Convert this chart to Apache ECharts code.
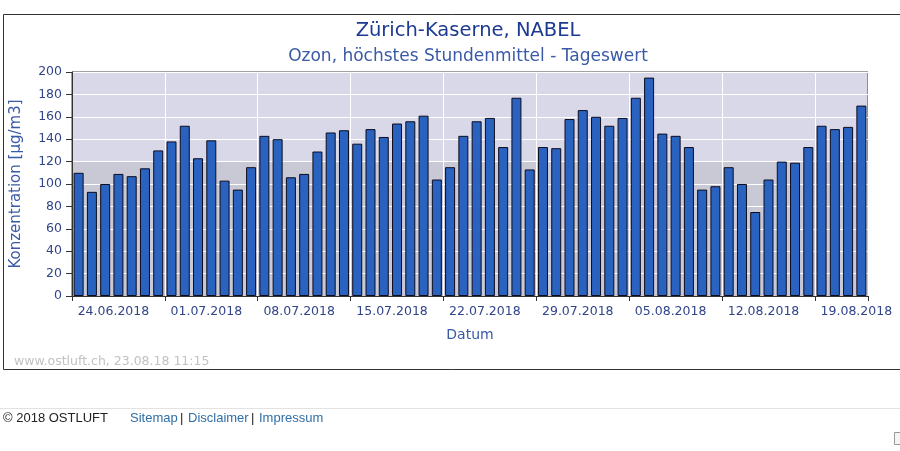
<!DOCTYPE html>
<html>
<head>
<meta charset="utf-8">
<script src="https://cdn.jsdelivr.net/npm/echarts@6/dist/echarts.min.js"></script>
<style>html,body{margin:0;padding:0;background:#fff;}#c{width:900px;height:451px;}</style>
</head>
<body>
<div id="c"></div>
<script>
const days = ['24.06','25.06','26.06','27.06','28.06','29.06','30.06',
  '01.07','02.07','03.07','04.07','05.07','06.07','07.07',
  '08.07','09.07','10.07','11.07','12.07','13.07','14.07',
  '15.07','16.07','17.07','18.07','19.07','20.07','21.07',
  '22.07','23.07','24.07','25.07','26.07','27.07','28.07',
  '29.07','30.07','31.07','01.08','02.08','03.08','04.08',
  '05.08','06.08','07.08','08.08','09.08','10.08','11.08',
  '12.08','13.08','14.08','15.08','16.08','17.08','18.08',
  '19.08','20.08','21.08','22.08'];
const ozone = [110,93,100,109,107,114,130,
  138,152,123,139,103,95,115,
  143,140,106,109,129,146,148,
  136,149,142,154,156,161,104,
  115,143,156,159,133,177,113,
  133,132,158,166,160,152,159,
  177,195,145,143,133,95,98,
  115,100,75,104,120,119,133,
  152,149,151,170];
const weekLabels = ['24.06.2018','01.07.2018','08.07.2018','15.07.2018','22.07.2018',
  '29.07.2018','05.08.2018','12.08.2018','19.08.2018'];
const yTicks = [0,20,40,60,80,100,120,140,160,180,200];
const threshold = 120;

const chart = echarts.init(document.getElementById('c'));
const labelColor = '#32458a';
chart.setOption({
  animation: false,
  backgroundColor: '#fff',
  title: [
    {text: 'Zürich-Kaserne, NABEL', left: 463, top: 16, textAlign: 'center',
     textStyle: {fontFamily: 'DejaVu Sans', fontSize: 19.5, fontWeight: 'normal', color: '#1d3a92'}},
    {text: 'Ozon, höchstes Stundenmittel - Tageswert', left: 463, top: 43, textAlign: 'center',
     textStyle: {fontFamily: 'DejaVu Sans', fontSize: 17, fontWeight: 'normal', color: '#3a5aa6'}},
    {text: 'www.ostluft.ch, 23.08.18 11:15', left: 9, top: 350,
     textStyle: {fontFamily: 'DejaVu Sans', fontSize: 12.5, fontWeight: 'normal', color: '#c2c2c2'}}
  ],
  grid: {left: 72, right: 32, top: 72, bottom: 155, show: true,
    backgroundColor: '#d8d8e8', borderColor: '#444', borderWidth: 1},
  xAxis: {
    type: 'category', data: days, z: 3,
    name: 'Datum', nameLocation: 'middle', nameGap: 32,
    nameTextStyle: {fontFamily: 'DejaVu Sans', fontSize: 14, color: '#3a5aa6'},
    axisLine: {lineStyle: {color: '#333', width: 1}},
    axisTick: {show: true, length: 5, lineStyle: {color: '#333'},
      interval: function (i) { return i % 7 === 0; }},
    splitLine: {show: true, lineStyle: {color: '#ffffff', width: 1},
      interval: function (i) { return i % 7 === 0; }},
    axisLabel: {
      interval: function (i) { return i % 7 === 3; },
      formatter: function (v, i) { return weekLabels[Math.floor(i / 7)]; },
      fontFamily: 'DejaVu Sans', fontSize: 12.5, color: labelColor, margin: 9,
      padding: [0, 10, 0, 0]
    }
  },
  yAxis: {
    type: 'value', min: yTicks[0], max: yTicks[yTicks.length - 1], interval: 20, z: 3,
    name: 'Konzentration [µg/m3]', nameLocation: 'middle', nameGap: 48,
    nameTextStyle: {fontFamily: 'DejaVu Sans', fontSize: 15, color: '#3a5aa6'},
    axisLine: {show: true, lineStyle: {color: '#333', width: 1}},
    axisTick: {show: true, length: 6, lineStyle: {color: '#333'}},
    splitLine: {show: true, lineStyle: {color: '#ffffff', width: 1}},
    axisLabel: {fontFamily: 'DejaVu Sans', fontSize: 12.5, color: labelColor, margin: 10}
  },
  series: [
    {type: 'line', data: ozone, z: 1, silent: true, showSymbol: false,
     lineStyle: {opacity: 0, width: 0},
     markArea: {silent: true, itemStyle: {color: '#c9c9d5'},
       data: [[{yAxis: 0}, {yAxis: threshold}]]}},
    {type: 'bar', data: ozone, z: 5, barWidth: 10,
     itemStyle: {color: '#2a62c0', borderColor: '#0c0c1e', borderWidth: 1}}
  ],
  graphic: [
    {type: 'rect', shape: {x: 3.5, y: 14.5, width: 900, height: 355}, silent: true, z: -1,
     style: {fill: 'none', stroke: '#333', lineWidth: 1}},
    {type: 'line', shape: {x1: 0, y1: 408.5, x2: 900, y2: 408.5}, silent: true,
     style: {stroke: '#e2e2e2', lineWidth: 1}},
    {type: 'text', x: 3, y: 418, silent: true,
     style: {text: '© 2018 OSTLUFT', font: '13px "Liberation Sans"', fill: '#222', verticalAlign: 'middle'}},
    {type: 'text', x: 130, y: 418, silent: true,
     style: {text: 'Sitemap', font: '13px "Liberation Sans"', fill: '#2f6ea6', verticalAlign: 'middle'}},
    {type: 'text', x: 180, y: 418, silent: true,
     style: {text: '|', font: '13px "Liberation Sans"', fill: '#222', verticalAlign: 'middle'}},
    {type: 'text', x: 188, y: 418, silent: true,
     style: {text: 'Disclaimer', font: '13px "Liberation Sans"', fill: '#2f6ea6', verticalAlign: 'middle'}},
    {type: 'text', x: 251, y: 418, silent: true,
     style: {text: '|', font: '13px "Liberation Sans"', fill: '#222', verticalAlign: 'middle'}},
    {type: 'text', x: 259, y: 418, silent: true,
     style: {text: 'Impressum', font: '13px "Liberation Sans"', fill: '#2f6ea6', verticalAlign: 'middle'}},
    {type: 'rect', shape: {x: 894.5, y: 432.5, width: 8, height: 12}, silent: true,
     style: {fill: '#f4f4f4', stroke: '#999', lineWidth: 1}}
  ]
});
</script>
</body>
</html>
